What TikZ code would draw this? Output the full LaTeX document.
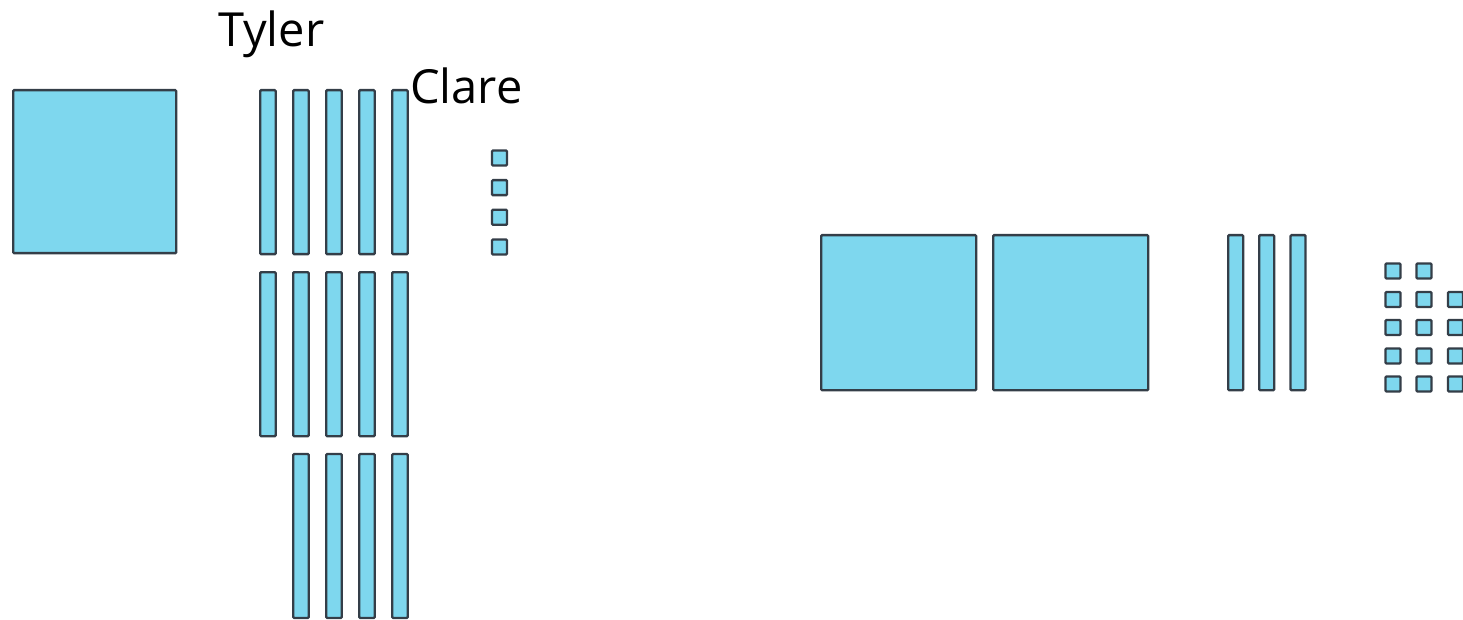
\documentclass[tikz,border=0pt]{standalone}
\usepackage{fontspec}
\setmainfont{Open Sans}
\definecolor{tilefill}{RGB}{126,215,238}
\definecolor{tileline}{RGB}{52,62,72}
\begin{document}
\begin{tikzpicture}[x=1pt,y=-1pt,
  tile/.style={draw=tileline,fill=tilefill,line width=2.4pt,rounded corners=1pt,
    inner sep=0pt,outer sep=0pt,anchor=north west},
  hundred/.style={tile,minimum width=163pt,minimum height=163pt},
  hundredR/.style={tile,minimum width=155pt,minimum height=155pt},
  ten/.style={tile,minimum width=15.5pt,minimum height=164pt},
  tenR/.style={tile,minimum width=15pt,minimum height=155pt},
  one/.style={tile,minimum width=15pt,minimum height=15pt},
  lbl/.style={font=\fontsize{47}{56}\selectfont,inner sep=0pt,anchor=base west}]
\useasboundingbox (0,0) rectangle (1463,620);
\clip (0,0) rectangle (1463,620);
% labels
\node[lbl] (tyler) at (218,47) {Tyler};
\node[lbl] (clare) at (410,104) {Clare};
% left: hundred
\node[hundred] (h1) at (13.2,90.2) {};
% left: tens, three rows
\foreach \i/\x in {1/260.2,2/293.2,3/326.2,4/359.2,5/392.2}{
  \node[ten] (ta\i) at (\x,90.2) {};
  \node[ten] (tb\i) at (\x,272.2) {};
}
\foreach \i/\x in {2/293.2,3/326.2,4/359.2,5/392.2}{
  \node[ten] (tc\i) at (\x,454) {};
}
% left: ones
\foreach \i/\y in {1/150.5,2/180.2,3/209.8,4/239.5}{
  \node[one] (oa\i) at (492,\y) {};
}
% right: hundreds
\node[hundredR] (h2) at (821.2,235.2) {};
\node[hundredR] (h3) at (993.2,235.2) {};
% right: tens
\foreach \i/\x in {1/1228.2,2/1259.2,3/1290.5}{
  \node[tenR] (tr\i) at (\x,235.2) {};
}
% right: ones
\node[one] (or01) at (1385.5,263.5) {};
\node[one] (or02) at (1416.5,263.5) {};
\foreach \r/\y in {1/292,2/320,3/348.5,4/376.5}{
  \foreach \c/\x in {1/1385.5,2/1416.5,3/1448}{
    \node[one] (or\r\c) at (\x,\y) {};
  }
}
\end{tikzpicture}
\end{document}
